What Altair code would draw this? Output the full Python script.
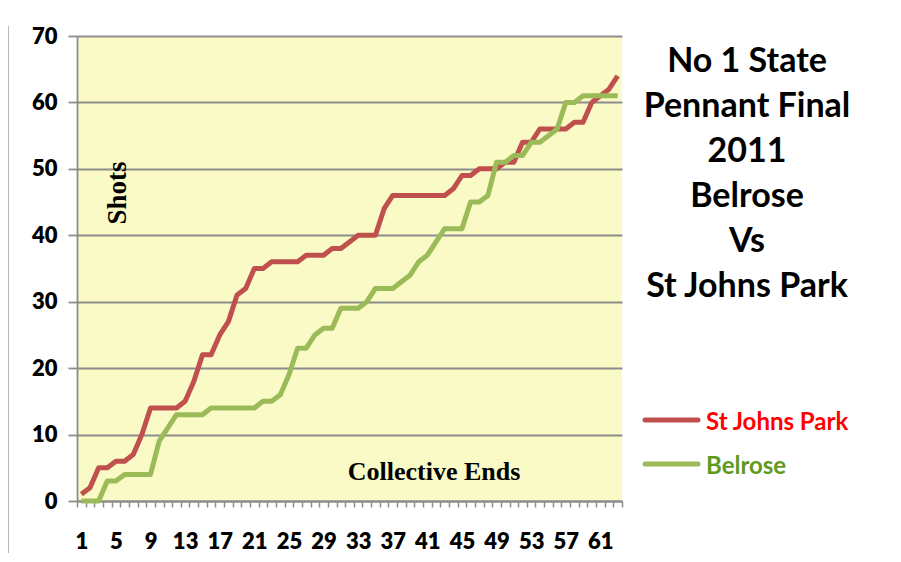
import altair as alt
import pandas as pd

ends = list(range(1, 64))
st_johns = [1, 2, 5, 5, 6, 6, 7, 10, 14, 14,
            14, 14, 15, 18, 22, 22, 25, 27, 31, 32,
            35, 35, 36, 36, 36, 36, 37, 37, 37, 38,
            38, 39, 40, 40, 40, 44, 46, 46, 46, 46,
            46, 46, 46, 47, 49, 49, 50, 50, 50, 51,
            51, 54, 54, 56, 56, 56, 56, 57, 57, 60,
            61, 62, 64]
belrose = [0, 0, 0, 3, 3, 4, 4, 4, 4, 9,
           11, 13, 13, 13, 13, 14, 14, 14, 14, 14,
           14, 15, 15, 16, 19, 23, 23, 25, 26, 26,
           29, 29, 29, 30, 32, 32, 32, 33, 34, 36,
           37, 39, 41, 41, 41, 45, 45, 46, 51, 51,
           52, 52, 54, 54, 55, 56, 60, 60, 61, 61,
           61, 61, 61]
teams = ["St Johns Park", "Belrose"]
line_colors = ["#C0504D", "#9BBB59"]
text_colors = ["#FF0000", "#5F9A1F"]
title_lines = ["No 1 State", "Pennant Final", "2011", "Belrose", "Vs", "St Johns Park"]
y_ticks = [0, 10, 20, 30, 40, 50, 60, 70]

df = pd.DataFrame({
    "end": ends * 2,
    "shots": st_johns + belrose,
    "team": [teams[0]] * len(ends) + [teams[1]] * len(ends),
})

GRID = "#8C8C8C"
LABEL_FONT = "Lato"

x_enc = alt.X(
    "end:O",
    scale=alt.Scale(type="band", paddingInner=0, paddingOuter=0),
    bandPosition=0.5,
    title=None,
    axis=alt.Axis(
        labelExpr="(datum.value - 1) % 4 == 0 ? datum.label : ''",
        labelAngle=0, labelOverlap=False, tickBand="extent",
        tickSize=6, tickColor=GRID, tickWidth=1.5,
        domainColor=GRID, domainWidth=2,
        labelPadding=24, grid=False,
        labelFont=LABEL_FONT, labelFontWeight=800, labelFontSize=22, labelColor="black",
    ),
)
y_enc = alt.Y(
    "shots:Q",
    scale=alt.Scale(domain=[0, 70], nice=False),
    title=None,
    axis=alt.Axis(
        values=y_ticks, grid=True, gridColor=GRID, gridWidth=1.8,
        domainColor=GRID, domainWidth=1.8, tickColor=GRID, tickWidth=1.8,
        tickSize=9, labelPadding=11,
        labelFont=LABEL_FONT, labelFontWeight=800, labelFontSize=22, labelColor="black",
    ),
)

lines = alt.Chart(df).mark_line(strokeWidth=5, strokeJoin="round").encode(
    x=x_enc,
    y=y_enc,
    color=alt.Color("team:N", scale=alt.Scale(domain=teams, range=line_colors), legend=None),
    detail="team:N",
)

layers = [lines]

# Axis titles drawn inside the plot area (as in the original)
layers.append(
    alt.Chart(pd.DataFrame({"t": ["Shots"]})).mark_text(
        font="Liberation Serif", fontWeight="bold", fontSize=27, angle=270,
        color="black",
    ).encode(text="t:N", x=alt.value(41), y=alt.value(157))
)
layers.append(
    alt.Chart(pd.DataFrame({"t": ["Collective Ends"]})).mark_text(
        font="Liberation Serif", fontWeight="bold", fontSize=26, color="black",
    ).encode(text="t:N", x=alt.value(357), y=alt.value(436))
)

# Title block on the right
for i, line in enumerate(title_lines):
    layers.append(
        alt.Chart(pd.DataFrame({"t": [line]})).mark_text(
            font=LABEL_FONT, fontWeight="bold", fontSize=34, color="black",
        ).encode(text="t:N", x=alt.value(670), y=alt.value(26 + 45 * i))
    )

# Manual legend
for i, team in enumerate(teams):
    yy = 384 + 44 * i
    layers.append(
        alt.Chart(pd.DataFrame({"t": [team]})).mark_rule(
            strokeWidth=5, color=line_colors[i], strokeCap="round",
        ).encode(x=alt.value(568), x2=alt.value(621), y=alt.value(yy))
    )
    layers.append(
        alt.Chart(pd.DataFrame({"t": [team]})).mark_text(
            font=LABEL_FONT, fontWeight="bold", fontSize=24, color=text_colors[i],
            align="left",
        ).encode(text="t:N", x=alt.value(629), y=alt.value(yy + 3))
    )

# Chart-area border on the left
layers.append(
    alt.Chart(pd.DataFrame({"t": [0]})).mark_rule(color="#A0A0A0", strokeWidth=1.5).encode(
        x=alt.value(-69), y=alt.value(-10), y2=alt.value(520)
    )
)

chart = alt.layer(*layers).properties(
    width=545,
    height=465,
    autosize=alt.AutoSizeParams(type="none"),
    padding={"left": 69, "top": 28, "right": 270, "bottom": 52},
    background="white",
).configure_view(fill="#FAFAC6", stroke=None)

chart.save("out.html", embed_options={"renderer": "svg", "actions": False})
